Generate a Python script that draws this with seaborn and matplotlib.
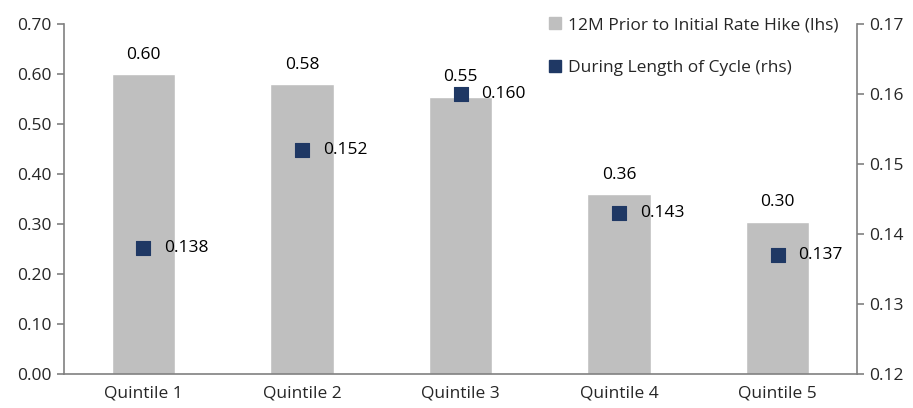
import matplotlib
matplotlib.use("Agg")
import matplotlib.pyplot as plt
import seaborn as sns
import pandas as pd
from matplotlib.lines import Line2D
from matplotlib.ticker import FixedLocator

categories = ["Quintile 1", "Quintile 2", "Quintile 3", "Quintile 4", "Quintile 5"]
prior_12m = [0.60, 0.58, 0.555, 0.36, 0.305]
prior_labels = ["0.60", "0.58", "0.55", "0.36", "0.30"]
cycle = [0.138, 0.152, 0.160, 0.143, 0.137]
cycle_labels = ["0.138", "0.152", "0.160", "0.143", "0.137"]
left_ticks = [0.0, 0.1, 0.2, 0.3, 0.4, 0.5, 0.6, 0.7]
right_ticks = [0.12, 0.13, 0.14, 0.15, 0.16, 0.17]

bar_color = "#BFBFBF"
dot_color = "#1F3864"
axis_color = "#808080"
fs = 12.5

sns.set_style("white")
plt.rcParams["font.family"] = ["Open Sans", "DejaVu Sans"]
plt.rcParams["font.size"] = fs

df = pd.DataFrame({"cat": categories, "prior": prior_12m, "cycle": cycle})

fig = plt.figure(figsize=(9.13, 4.08), dpi=100)
ax = fig.add_axes([64 / 913, 1 - 374 / 408, (857 - 64) / 913, 350 / 408])

sns.barplot(data=df, x="cat", y="prior", color=bar_color, width=0.40,
            saturation=1, ax=ax, zorder=1)
ax.set_xlim(-0.5, 4.5)
ax.set_ylim(0, 0.70)
ax.yaxis.set_major_locator(FixedLocator(left_ticks))
ax.set_yticklabels([f"{t:.2f}" for t in left_ticks])
ax.set_xlabel("")
ax.set_ylabel("")

for i, (v, lab) in enumerate(zip(prior_12m, prior_labels)):
    ax.annotate(lab, (i, v), xytext=(0, 8), textcoords="offset points",
                ha="center", va="bottom", fontsize=fs, color="#000000")

ax2 = ax.twinx()
sns.scatterplot(data=df, x="cat", y="cycle", marker="s", s=100, color=dot_color,
                edgecolor=dot_color, ax=ax2, zorder=3, legend=False)
ax2.set_ylim(0.12, 0.17)
ax2.yaxis.set_major_locator(FixedLocator(right_ticks))
ax2.set_yticklabels([f"{t:.2f}" for t in right_ticks])
ax2.set_xlabel("")
ax2.set_ylabel("")
ax2.set_xlim(-0.5, 4.5)

for i, (v, lab) in enumerate(zip(cycle, cycle_labels)):
    ax2.annotate(lab, (i, v), xytext=(15, 0), textcoords="offset points",
                 ha="left", va="center", fontsize=fs, color="#000000")

# category ticks sit on the boundaries between groups
ax.set_xticks(range(len(categories)))
ax.set_xticklabels(categories)
ax.tick_params(axis="x", length=0, pad=8, labelsize=fs)
ax.set_xticks([0.5, 1.5, 2.5, 3.5], minor=True)
ax.tick_params(axis="x", which="minor", length=5, color=axis_color, width=1.2, direction="out")
ax.tick_params(axis="y", length=5, color=axis_color, width=1.2, direction="out", labelsize=fs, pad=4)
ax2.tick_params(axis="y", length=5, color=axis_color, width=1.2, direction="out", labelsize=fs, pad=4)

for a in (ax, ax2):
    a.spines["top"].set_visible(False)
    for side in ("left", "right", "bottom"):
        a.spines[side].set_color(axis_color)
        a.spines[side].set_linewidth(1.2)
ax.spines["right"].set_visible(False)
ax2.spines["left"].set_visible(False)
ax2.spines["bottom"].set_visible(False)

handles = [
    Line2D([], [], marker="s", linestyle="none", markersize=8,
           markerfacecolor=bar_color, markeredgecolor=bar_color),
    Line2D([], [], marker="s", linestyle="none", markersize=8,
           markerfacecolor=dot_color, markeredgecolor=dot_color),
]
ax2.legend(handles, ["12M Prior to Initial Rate Hike (lhs)", "During Length of Cycle (rhs)"],
           loc="upper right", bbox_to_anchor=(0.997, 1.065), frameon=False,
           handlelength=0.8, handletextpad=0.4, labelspacing=1.55, fontsize=fs)

fig.savefig("out.png", dpi=100)
